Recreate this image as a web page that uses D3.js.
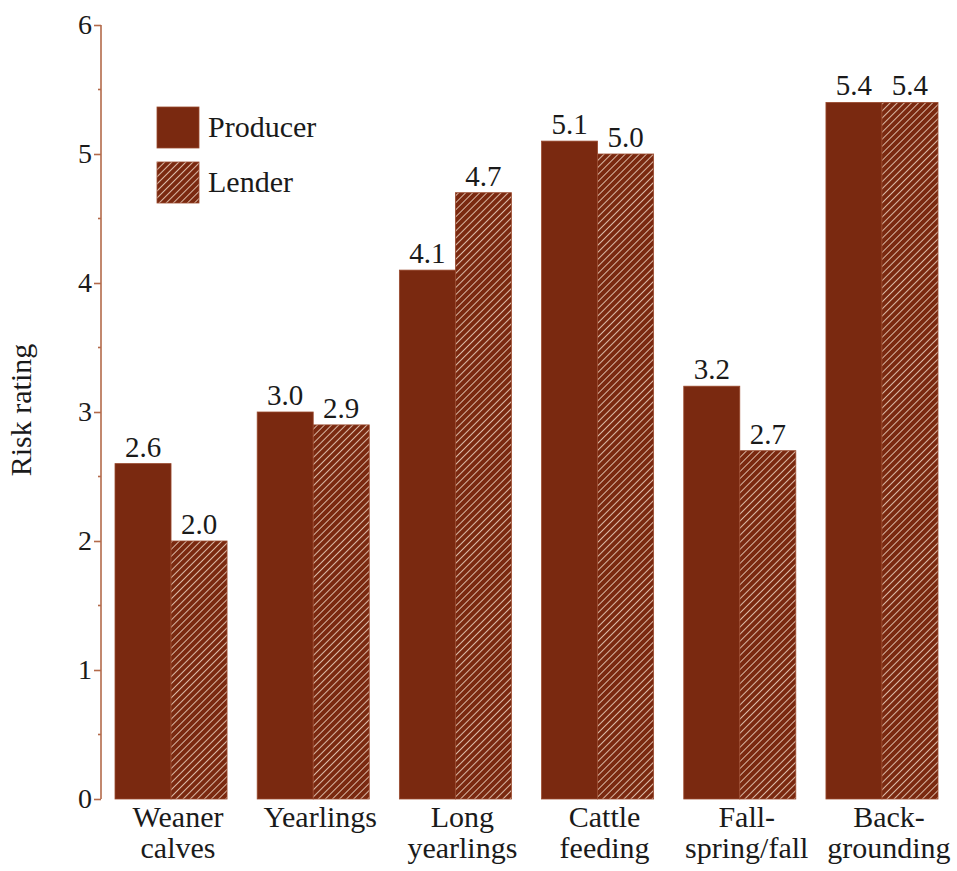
<!DOCTYPE html>
<html>
<head>
<meta charset="utf-8">
<script src="https://cdn.jsdelivr.net/npm/d3@7"></script>
</head>
<body style="margin:0; background:#fff">
<script>
// data
var categories = [["Weaner", "calves"], ["Yearlings"], ["Long", "yearlings"],
                  ["Cattle", "feeding"], ["Fall-", "spring/fall"], ["Back-", "grounding"]];
var producer = [2.6, 3.0, 4.1, 5.1, 3.2, 5.4];
var lender = [2.0, 2.9, 4.7, 5.0, 2.7, 5.4];
var series = ["Producer", "Lender"];
var yTicks = [0, 1, 2, 3, 4, 5, 6];

var serif = "Liberation Serif";
var textColor = "#1a1a1a";
var svgWidth = 957, svgHeight = 871;
var margin = { top: 25, right: 5, bottom: 72, left: 101 };
var chartWidth = svgWidth - margin.left - margin.right;
var chartHeight = svgHeight - margin.top - margin.bottom;

var brown = "#7a2910";
var axisColor = "#b36a4a";

var svg = d3.select("body").append("svg")
  .attr("width", svgWidth)
  .attr("height", svgHeight)
  .attr("font-family", serif);

// hatch for lender bars
var defs = svg.append("defs");
var pat = defs.append("pattern")
  .attr("id", "hatch")
  .attr("patternUnits", "userSpaceOnUse")
  .attr("width", 5).attr("height", 5)
  .attr("patternTransform", "rotate(45)");
pat.append("rect").attr("width", 5).attr("height", 5).attr("fill", brown);
pat.append("line")
  .attr("x1", 0).attr("y1", 0).attr("x2", 0).attr("y2", 5)
  .attr("stroke", "#ecd2c0").attr("stroke-width", 1.7);

var chartGroup = svg.append("g")
  .attr("transform", `translate(${margin.left}, ${margin.top})`);

var yScale = d3.scaleLinear().domain([0, 6]).range([chartHeight, 0]);

var x0 = d3.scaleBand()
  .domain(d3.range(categories.length))
  .range([0, 851])
  .paddingInner(0.212)
  .paddingOuter(0.0985)
  .align(0.5);

var x1 = d3.scaleBand().domain([0, 1]).range([0, x0.bandwidth()]);

// y axis
var yAxis = d3.axisLeft(yScale).tickValues(yTicks).tickSize(7).tickPadding(2).tickFormat(d3.format("d"));
var yAxisG = chartGroup.append("g").call(yAxis)
  .attr("font-family", serif)
  .attr("font-size", 28);
yAxisG.select(".domain").attr("stroke", axisColor).attr("stroke-width", 1.6)
  .attr("d", `M0,${yScale(0)}H0V${yScale(6)}`);
yAxisG.selectAll(".tick line").attr("stroke", axisColor).attr("stroke-width", 1.6);
yAxisG.selectAll(".tick text")
  .attr("font-family", serif)
  .attr("fill", textColor);

// minor ticks at halves
chartGroup.selectAll(".minor")
  .data(d3.range(0.5, 6, 1))
  .enter()
  .append("line")
  .attr("x1", -3).attr("x2", 0)
  .attr("y1", d => yScale(d)).attr("y2", d => yScale(d))
  .attr("stroke", axisColor).attr("stroke-width", 1.6);

// bars
var groups = chartGroup.selectAll(".group")
  .data(categories)
  .enter()
  .append("g")
  .attr("transform", (d, i) => `translate(${x0(i)}, 0)`);

groups.selectAll("rect")
  .data((d, i) => [producer[i], lender[i]])
  .enter()
  .append("rect")
  .attr("x", (d, j) => x1(j))
  .attr("y", d => yScale(d))
  .attr("width", x1.bandwidth())
  .attr("height", d => yScale(0) - yScale(d))
  .attr("fill", (d, j) => j === 0 ? brown : "url(#hatch)")
  .attr("stroke", "#9a4a2e")
  .attr("stroke-width", 0.8);

groups.selectAll(".val")
  .data((d, i) => [producer[i], lender[i]])
  .enter()
  .append("text")
  .attr("x", (d, j) => x1(j) + x1.bandwidth() / 2)
  .attr("y", d => yScale(d) - 7)
  .attr("text-anchor", "middle")
  .attr("fill", textColor)
  .attr("font-family", serif)
  .attr("font-size", 29)
  .text(d => d.toFixed(1));

// category labels
groups.append("text")
  .attr("text-anchor", "middle")
  .attr("fill", textColor)
  .attr("font-family", serif)
  .attr("font-size", 30)
  .selectAll("tspan")
  .data(d => d)
  .enter()
  .append("tspan")
  .attr("x", x0.bandwidth() / 2 + 7)
  .attr("y", (d, k) => chartHeight + 28 + k * 31)
  .text(d => d);

// y label
svg.append("text")
  .attr("transform", `translate(31, ${margin.top + chartHeight / 2 - 2}) rotate(-90)`)
  .attr("text-anchor", "middle")
  .attr("fill", textColor)
  .attr("font-family", serif)
  .attr("font-size", 30)
  .text("Risk rating");

// legend
var legend = svg.append("g").attr("transform", "translate(157, 107)");
var items = legend.selectAll("g")
  .data(series)
  .enter()
  .append("g")
  .attr("transform", (d, i) => `translate(0, ${i * 55})`);
items.append("rect")
  .attr("width", 42).attr("height", 41)
  .attr("fill", (d, i) => i === 0 ? brown : "url(#hatch)")
  .attr("stroke", "#9a4a2e").attr("stroke-width", 0.8);
items.append("text")
  .attr("x", 51).attr("y", 30)
  .attr("fill", textColor)
  .attr("font-family", serif)
  .attr("font-size", 30)
  .text(d => d);
</script>
</body>
</html>
